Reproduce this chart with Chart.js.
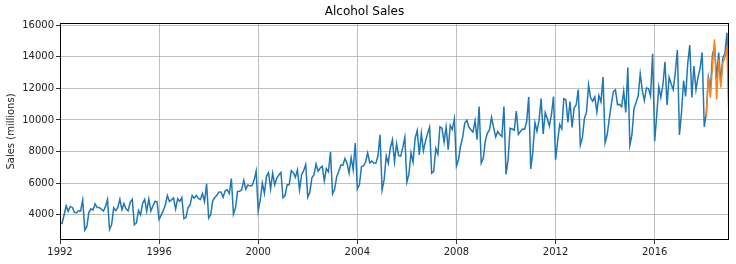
<!DOCTYPE html>
<html>
<head>
<meta charset="utf-8">
<script src="https://cdn.jsdelivr.net/npm/chart.js@4"></script>
<style>
  html, body { margin: 0; padding: 0; background: #fff; }
</style>
</head>
<body>
<canvas id="sales" width="736" height="264"></canvas>
<script>
// monthly sales, Jan 1992 .. Jan 2019
const startYear = 1992;
const sales = [
  3459, 3458, 4002, 4564, 4221, 4529, 4466, 4137, 4126, 4259, 4240, 4936,
  3031, 3261, 4160, 4377, 4307, 4696, 4458, 4457, 4364, 4236, 4500, 4974,
  3075, 3377, 4443, 4261, 4460, 4985, 4324, 4719, 4374, 4248, 4784, 4971,
  3370, 3484, 4269, 3994, 4715, 4974, 4223, 5000, 4235, 4554, 4851, 4826,
  3699, 3983, 4262, 4619, 5219, 4836, 4941, 5062, 4365, 5012, 4850, 5097,
  3758, 3825, 4454, 4635, 5210, 5057, 5231, 5034, 4970, 5342, 4831, 5965,
  3796, 4019, 4898, 5090, 5237, 5447, 5435, 5107, 5515, 5583, 5346, 6286,
  4032, 4435, 5479, 5483, 5587, 6176, 5621, 5889, 5828, 5849, 6180, 6771,
  4243, 4952, 6008, 5353, 6435, 6673, 5636, 6630, 5887, 6322, 6520, 6678,
  5082, 5216, 5893, 5894, 6799, 6667, 6374, 6840, 5575, 6545, 6789, 7180,
  5117, 5442, 6337, 6525, 7216, 6761, 6958, 7070, 6148, 6924, 6716, 7975,
  5326, 5609, 6414, 6741, 7144, 7133, 7568, 7266, 6634, 7626, 6843, 8540,
  5629, 5898, 7045, 7094, 7333, 7918, 7289, 7396, 7259, 7268, 7731, 9058,
  5557, 6237, 7723, 7262, 8241, 8757, 7352, 8496, 7741, 7710, 8247, 8902,
  6066, 6590, 7923, 7335, 8843, 9327, 7792, 9156, 8037, 8640, 9128, 9545,
  6627, 6743, 8195, 7828, 9570, 9484, 8608, 9543, 8123, 9649, 9390, 10065,
  7093, 7483, 8365, 8895, 9794, 9977, 9553, 9375, 9225, 9948, 8758, 10839,
  7266, 7578, 8688, 9162, 9369, 10167, 9507, 8923, 9272, 9075, 8949, 10843,
  6558, 7481, 9475, 9424, 9351, 10552, 9077, 9273, 9420, 9413, 9866, 11455,
  6901, 8014, 9832, 9281, 9967, 11344, 9106, 10469, 10085, 9612, 10328, 11483,
  7486, 8641, 9709, 9423, 11342, 11274, 9845, 11163, 9532, 10754, 10953, 11922,
  8395, 8888, 10110, 10493, 12218, 11385, 11186, 11462, 10494, 11540, 11138, 12709,
  8557, 9059, 10055, 10977, 11792, 11904, 10965, 10981, 10828, 11817, 10470, 13310,
  8400, 9062, 10722, 11107, 11508, 12904, 11869, 11224, 12022, 11983, 11506, 14183,
  8648, 10321, 12107, 11420, 12238, 13681, 10950, 12700, 12272, 11905, 13016, 14421,
  9043, 10452, 12481, 11491, 13545, 14730, 11416, 13402, 11907, 12711, 13261, 14265,
  9564, 10415, 12683, 11919, 14138, 14583, 12640, 14257, 12396, 13914, 14174, 15504,
  10718
];
// forecast, Feb 2018 .. Jan 2019
const forecastStart = 313;
const forecast = [10200, 12700, 11400, 13500, 15100, 11300, 13850, 12050, 13600, 13950, 14550, 10050];

const xTicks = [1992, 1996, 2000, 2004, 2008, 2012, 2016];
const yTicks = [4000, 6000, 8000, 10000, 12000, 14000, 16000];

const salesPts = sales.map((v, i) => ({ x: startYear + i / 12, y: v }));
const forecastPts = forecast.map((v, i) => ({ x: startYear + (forecastStart + i) / 12, y: v }));

const frame = {
  id: 'frame',
  afterDraw(chart) {
    const a = chart.chartArea, c = chart.ctx;
    c.save();
    c.strokeStyle = '#000';
    c.lineWidth = 1;
    c.strokeRect(Math.round(a.left) + 0.5, Math.round(a.top) + 0.5,
                 Math.round(a.right - a.left) - 1, Math.round(a.bottom - a.top) - 1);
    c.restore();
  }
};

new Chart(document.getElementById('sales'), {
  type: 'line',
  data: {
    datasets: [
      { data: salesPts, borderColor: '#1f77b4', borderWidth: 1.5, pointRadius: 0, tension: 0, order: 1 },
      { data: forecastPts, borderColor: '#ff7f0e', borderWidth: 1.5, pointRadius: 0, tension: 0, order: 0 }
    ]
  },
  options: {
    responsive: false,
    animation: false,
    layout: { padding: { left: 0, right: 7, top: 0, bottom: 0 } },
    plugins: {
      legend: { display: false },
      tooltip: { enabled: false },
      title: {
        display: true,
        text: 'Alcohol Sales',
        color: '#000',
        font: { family: 'DejaVu Sans', size: 12, weight: 'normal' },
        padding: { top: 5, bottom: 3.6 }
      }
    },
    scales: {
      x: {
        type: 'linear',
        min: 1992,
        max: 2019,
        afterBuildTicks: s => { s.ticks = xTicks.map(v => ({ value: v })); },
        afterFit: s => { s.height = 24; },
        grid: { color: '#b0b0b0', lineWidth: 0.8, tickColor: '#000', tickLength: 4 },
        border: { display: false },
        ticks: {
          color: '#222',
          font: { family: 'DejaVu Sans', size: 10 },
          maxRotation: 0,
          padding: 2,
          callback: v => String(v)
        }
      },
      y: {
        min: 2407,
        max: 16128,
        afterBuildTicks: s => { s.ticks = yTicks.map(v => ({ value: v })); },
        afterFit: s => { s.width = 60; },
        grid: { color: '#b0b0b0', lineWidth: 0.8, tickColor: '#000', tickLength: 4 },
        border: { display: false },
        title: {
          display: true,
          text: 'Sales (millions)',
          color: '#222',
          font: { family: 'DejaVu Sans', size: 10 },
          padding: { top: 5, bottom: 0 }
        },
        ticks: {
          color: '#222',
          font: { family: 'DejaVu Sans', size: 10 },
          padding: 2,
          callback: v => String(v)
        }
      }
    }
  },
  plugins: [frame]
});
</script>
</body>
</html>
